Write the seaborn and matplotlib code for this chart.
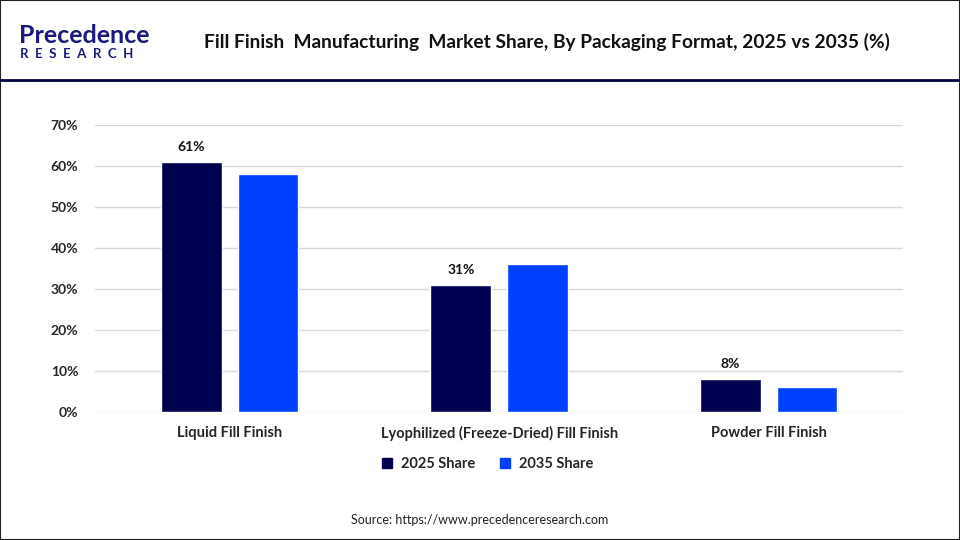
import matplotlib
matplotlib.use("Agg")
import matplotlib.pyplot as plt
import seaborn as sns
import pandas as pd
from matplotlib.patches import Rectangle
from matplotlib.lines import Line2D

# data
categories = ["Liquid Fill Finish", "Lyophilized (Freeze-Dried) Fill Finish", "Powder Fill Finish"]
share_2025 = [61, 31, 8]
share_2035 = [58, 36, 6]
series = ["2025 Share", "2035 Share"]
yticks = [0, 10, 20, 30, 40, 50, 60, 70]

colors = ["#000050", "#0040FF"]

df = pd.DataFrame({
    "category": categories * 2,
    "value": share_2025 + share_2035,
    "series": [series[0]] * 3 + [series[1]] * 3,
})

sns.set_theme(style="white")
plt.rcParams["font.family"] = ["Lato", "DejaVu Sans"]

fig = plt.figure(figsize=(9.6, 5.4), dpi=100)
ax = fig.add_axes([0.099, 0.237, 0.842, 0.5315])

sns.barplot(data=df, x="category", y="value", hue="series", palette=colors,
            width=0.57, gap=0.21, ax=ax, legend=False, saturation=1)

# labels only on the 2025 bars
for bar, v in zip(ax.containers[0], share_2025):
    ax.text(bar.get_x() + bar.get_width() / 2, v + 2.2, f"{v}%",
            ha="center", va="bottom", fontsize=10, fontweight="bold", color="#111111")

ax.set_ylim(0, 70)
ax.set_yticks(yticks)
ax.set_yticklabels([f"{t}%" for t in yticks], fontsize=10, fontweight="bold")
ax.set_xlim(-0.5, 2.5)
ax.set_xlabel("")
ax.set_ylabel("")
ax.tick_params(axis="x", labelsize=10.5, pad=10, length=0)
ax.tick_params(axis="y", pad=12, length=0)
for lab in ax.get_xticklabels():
    lab.set_fontweight("bold")
ax.yaxis.grid(True, color="#d9d9d9", linewidth=1)
ax.set_axisbelow(True)
for s in ax.spines.values():
    s.set_visible(False)

# legend
handles = [Line2D([], [], marker="s", linestyle="", markersize=7, color=c) for c in colors]
fig.legend(handles, series, loc="center", bbox_to_anchor=(0.503, 0.141), ncol=2,
           frameon=False, prop={"weight": "bold", "size": 10.5},
           handletextpad=0.0, columnspacing=1.0)

# header
fig.text(0.57, 0.922, "Fill Finish  Manufacturing  Market Share, By Packaging Format, 2025 vs 2035 (%)",
         ha="center", va="center", fontsize=13.8, fontweight="bold", color="#111111")
fig.text(0.02, 0.935, "Precedence", ha="left", va="center", fontsize=18,
         color="#1a1a7a", fontweight="bold")
fig.text(0.021, 0.9, "R  E  S  E  A  R  C  H", ha="left", va="center", fontsize=9.5,
         color="#1a1a7a", fontweight="bold")
fig.add_artist(Line2D([0, 1], [0.852, 0.852], transform=fig.transFigure,
                      color="#000040", linewidth=2))
fig.add_artist(Rectangle((0, 0), 1, 1, transform=fig.transFigure, fill=False,
                         edgecolor="#222222", linewidth=1.5))

fig.text(0.5, 0.037, "Source: https://www.precedenceresearch.com", ha="center",
         va="center", fontsize=9, color="#222222")

fig.savefig("out.png", dpi=100)
